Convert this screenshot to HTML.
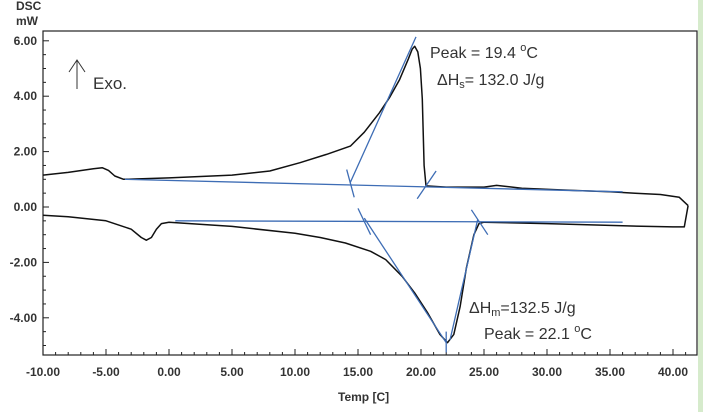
<!DOCTYPE html>
<html><head><meta charset="utf-8"><style>
body{margin:0;background:#fff;width:703px;height:412px;overflow:hidden;font-family:"Liberation Sans",sans-serif}
</style></head><body>
<svg width="703" height="412" viewBox="0 0 703 412" xmlns="http://www.w3.org/2000/svg" font-family="Liberation Sans, sans-serif">
<rect x="698" y="0" width="5" height="412" fill="#d6ebcc"/>
<g id="axes"></g>
<g id="marks"></g>
<text x="16" y="10" font-size="12" fill="#333" font-weight="bold">DSC</text>
<text x="16" y="25" font-size="12" fill="#333" font-weight="bold">mW</text>
<text x="338" y="401" font-size="12" fill="#333" font-weight="bold">Temp  [C]</text>
<g>
<line x1="77" y1="89" x2="77" y2="60" stroke="#333" stroke-width="1"/>
<polyline points="69,72 77,60 85,72" fill="none" stroke="#333" stroke-width="1"/>
<text x="93" y="89" font-size="17" fill="#333">Exo.</text>
</g>
<text x="430" y="58" font-size="16" fill="#333">Peak = 19.4 <tspan font-size="11" dy="-7">o</tspan><tspan dy="7">C</tspan></text>
<text x="437" y="85" font-size="16" fill="#333">ΔH<tspan font-size="11" dy="3">s</tspan><tspan dy="-3">= 132.0 J/g</tspan></text>
<text x="469" y="313" font-size="16" fill="#333">ΔH<tspan font-size="11" dy="3">m</tspan><tspan dy="-3">=132.5 J/g</tspan></text>
<text x="484" y="339" font-size="16" fill="#333">Peak = 22.1 <tspan font-size="11" dy="-7">o</tspan><tspan dy="7">C</tspan></text>
</svg>
<script>
const xTicks=[-10,-5,0,5,10,15,20,25,30,35,40];
const yTicks=[6,4,2,0,-2,-4];
const coolT=[-10,-8,-6,-5.3,-4.8,-4.3,-3.6,0,5,8,10.4,12.5,14.4,15.5,16.7,17.5,18.3,19.0,19.3,19.5,19.75,19.95,20.1,20.25,20.4,22,25,26,28,32,35,37,39,40.5,41.2];
const coolQ=[1.15,1.25,1.38,1.42,1.32,1.12,1.0,1.05,1.15,1.3,1.6,1.9,2.2,2.7,3.4,3.95,4.6,5.35,5.7,5.8,5.6,5.0,3.9,1.5,0.76,0.72,0.72,0.78,0.68,0.6,0.55,0.5,0.45,0.35,0.05];
const heatT=[41.2,40.9,40,36,30,25,24.6,24.2,23.6,23.1,22.6,22.1,21.5,20.5,19.5,18.5,17.2,16,14,12,10,5,0,-0.6,-1.0,-1.4,-1.8,-2.2,-3,-5,-8,-10];
const heatQ=[0.05,-0.72,-0.72,-0.68,-0.6,-0.55,-0.6,-1.0,-2.2,-3.6,-4.6,-4.9,-4.6,-3.8,-3.1,-2.5,-1.9,-1.6,-1.3,-1.1,-0.95,-0.7,-0.55,-0.6,-0.8,-1.1,-1.2,-1.1,-0.8,-0.5,-0.35,-0.3];
const baseUpT=[-3.5,36];const baseUpQ=[1.0,0.55];
const baseLoT=[0.5,36];const baseLoQ=[-0.5,-0.55];
const tanUpT=[14.37,19.6];const tanUpQ=[0.87,6.14];
const tanLo1T=[15.5,22];const tanLo1Q=[-0.4,-4.9];
const tanLo2T=[22.3,24.5];const tanLo2Q=[-4.8,-0.45];
const X0=43,X1=697,Y0=31,Y1=355;
const x=t=>43+(t+10)*12.6;
const y=q=>207-q*27.7;
const NS='http://www.w3.org/2000/svg';
function mk(tag,at,parent){const e=document.createElementNS(NS,tag);for(const k in at)e.setAttribute(k,at[k]);document.getElementById(parent).appendChild(e);return e;}
let f=mk('rect',{x:X0,y:Y0,width:X1-X0,height:Y1-Y0,fill:'none',stroke:'#222','stroke-width':1.2},'axes');


for(let t=-10;t<=41;t++){const l=mk('line',{x1:x(t),x2:x(t),y1:Y1,y2:Y1-(t%5==0?6:3),stroke:'#222'},'axes');

}
xTicks.forEach(t=>{const e=mk('text',{x:x(t),y:376,'font-size':12,'font-weight':'bold',fill:'#333','text-anchor':'middle'},'axes');e.textContent=t.toFixed(2);

});
for(let q=-5;q<=6;q+=0.5){const l=mk('line',{x1:X0,x2:X0+(q%2==0?6:3),y1:y(q),y2:y(q),stroke:'#222'},'axes');

}
yTicks.forEach(q=>{const e=mk('text',{x:37,y:y(q)+4,'font-size':12,'font-weight':'bold',fill:'#333','text-anchor':'end'},'axes');e.textContent=q.toFixed(2);

});
function path(T,Q,name,color,w){const d=T.map((t,i)=>(i?'L':'M')+x(t).toFixed(1)+','+y(Q[i]).toFixed(1)).join('');const p=mk('path',{d:d,fill:'none',stroke:color,'stroke-width':w,'stroke-linejoin':'round'},'marks');

}
path(coolT,coolQ,'cooling-curve','#111',1.5);
path(heatT,heatQ,'heating-curve','#111',1.5);
const B='#3e6db5';
path(baseUpT,baseUpQ,'baseline-upper',B,1.3);
path(baseLoT,baseLoQ,'baseline-lower',B,1.3);
path(tanUpT,tanUpQ,'tangent-upper',B,1.3);
path(tanLo1T,tanLo1Q,'tangent-lower-left',B,1.3);
path(tanLo2T,tanLo2Q,'tangent-lower-right',B,1.3);
path([14.1,14.7],[1.35,0.35],'onset-mark-upper',B,1.3);
path([19.7,21.2],[0.3,1.3],'endset-mark-upper',B,1.3);
path([15.0,16.0],[-0.05,-1.0],'onset-mark-lower',B,1.3);
path([24.0,25.3],[-0.1,-1.0],'endset-mark-lower',B,1.3);
path([22.0,22.0],[-4.5,-5.25],'peak-mark-lower',B,1.3);
</script>
</body></html>
